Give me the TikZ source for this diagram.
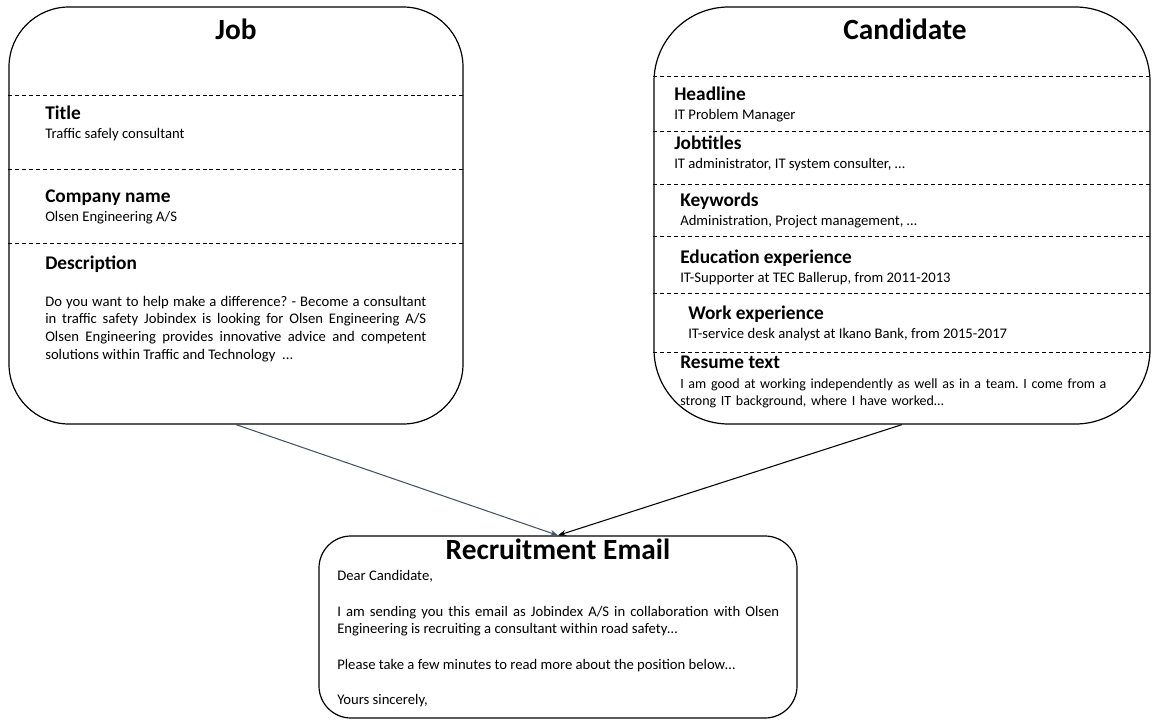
\documentclass[tikz,border=0pt]{standalone}
\usepackage{fontspec}
\setmainfont{Carlito}
\usetikzlibrary{arrows.meta}
\frenchspacing

\begin{document}
\begin{tikzpicture}[x=0.75pt,y=-0.75pt,
    card/.style={draw,line width=0.9pt,inner sep=0pt},
    ttl/.style={anchor=base,inner sep=0pt,font=\fontsize{22}{26}\selectfont\bfseries},
    head/.style={anchor=base west,inner sep=0pt,font=\fontsize{14.5}{17}\selectfont\bfseries},
    txt/.style={anchor=base west,inner sep=0pt,font=\fontsize{11}{13.3}\selectfont},
    sep/.style={dash pattern=on 3pt off 2.2pt,line width=0.7pt}]
    \useasboundingbox (0,0) rectangle (1152,720);

    % the three boxes
    \node[card,rounded corners=45pt,minimum width=340.5pt,minimum height=312.75pt] (job) at (236,215.5) {};
    \node[card,rounded corners=56pt,minimum width=372pt,minimum height=312.75pt] (cand) at (902,215.5) {};
    \node[card,rounded corners=24pt,minimum width=358.5pt,minimum height=136.5pt] (mail) at (558,627) {};

    % job
    \node[ttl] (jobT) at (236,40) {Job};
    \foreach \y in {95,169,243}
        \draw[sep] (job.west |- 0,\y) -- (job.east |- 0,\y);
    \node[head] (jobH1) at (45,120) {Title};
    \node[txt] (jobV1) at (45,139) {Traffic safely consultant};
    \node[head] (jobH2) at (45,203) {Company name};
    \node[txt] (jobV2) at (45,222) {Olsen Engineering A/S};
    \node[head] (jobH3) at (45,269) {Description};
    \node[txt,text width=285.75pt,align=justify] (jobV3) at (45,306)
        {Do you want to help make a difference? - Become a consultant\linebreak
         in traffic safety Jobindex is looking for Olsen Engineering A/S\linebreak
         Olsen Engineering provides innovative advice and competent\linebreak
         solutions within Traffic and Technology\ \ ...};

    % candidate
    \node[ttl] (candT) at (905,40) {Candidate};
    \foreach \y in {76,131,184,236,293,352}
        \draw[sep] (cand.west |- 0,\y) -- (cand.east |- 0,\y);
    \node[head] (candH1) at (674,101) {Headline};
    \node[txt] (candV1) at (674,120) {IT Problem Manager};
    \node[head] (candH2) at (674,150) {Jobtitles};
    \node[txt] (candV2) at (674,169) {IT administrator, IT system consulter, …};
    \node[head] (candH3) at (680,207) {Keywords};
    \node[txt] (candV3) at (680,226) {Administration, Project management, …};
    \node[head] (candH4) at (680,263) {Education experience};
    \node[txt] (candV4) at (680,282) {IT-Supporter at TEC Ballerup, from 2011-2013};
    \node[head] (candH5) at (688,319) {Work experience};
    \node[txt] (candV5) at (688,338) {IT-service desk analyst at Ikano Bank, from 2015-2017};
    \node[head] (candH6) at (680,368) {Resume text};
    \node[txt,text width=345pt,align=left,font=\fontsize{10.5}{13}\selectfont] (candV6) at (680,388)
        {I am good at working independently as well as in a team. I come from a\\
         strong IT background, where I have worked…};

    % email
    \node[ttl] (mailT) at (558,559) {Recruitment Email};
    \node[txt] (mailL1) at (337,580) {Dear Candidate,};
    \node[txt,text width=331.5pt,align=justify] (mailL2) at (337,616)
        {I am sending you this email as Jobindex A/S in collaboration with Olsen\linebreak
         Engineering is recruiting a consultant within road safety…};
    \node[txt] (mailL3) at (337,669) {Please take a few minutes to read more about the position below…};
    \node[txt] (mailL4) at (337,704) {Yours sincerely,};

    % arrows
    \draw[-{Stealth[length=6pt,width=4.5pt]},color={rgb,255:red,68;green,84;blue,106},line width=0.8pt] (job.south) -- (mail.north);
    \draw[-{Stealth[length=6pt,width=4.5pt]},line width=0.8pt] (cand.south) -- (mail.north);
\end{tikzpicture}
\end{document}
